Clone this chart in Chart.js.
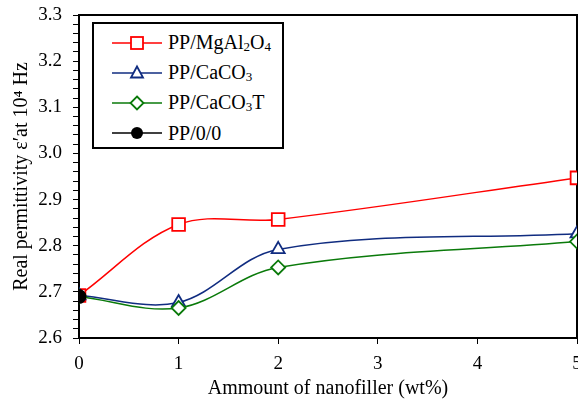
<!DOCTYPE html>
<html>
<head>
<meta charset="utf-8">
<script src="https://cdn.jsdelivr.net/npm/chart.js@4"></script>
<style>
  html, body { margin: 0; padding: 0; background: #fff; }
  #wrap { position: relative; width: 578px; height: 399px; }
  #legend {
    position: absolute; left: 92px; top: 22px; width: 188px; height: 123px;
    border: 2px solid #000; background: #fff;
    font-family: "Liberation Serif", "Times New Roman", serif; font-size: 20px;
  }
  #legend .row { position: absolute; left: 0; height: 30px; display: flex; align-items: center; }
  #legend svg { margin-left: 18px; margin-right: 6px; }
  #legend sub { font-size: 13px; vertical-align: -2px; }
</style>
</head>
<body>
<div id="wrap">
  <canvas id="chart" width="578" height="399"></canvas>
  <div id="legend"></div>
</div>
<script>
// values
const loading = [0, 1, 2, 5];               // wt%
const mgAl2O4 = [2.692, 2.846, 2.857, 2.947];
const caCO3   = [2.692, 2.677, 2.792, 2.826];
const caCO3T  = [2.690, 2.665, 2.753, 2.809];
const neatLoading = [0];
const neatPP = [2.690];

const seriesNames = ['PP/MgAl2O4', 'PP/CaCO3', 'PP/CaCO3T', 'PP/0/0'];
const seriesColors = ['#ff0000', '#102c80', '#0a7a0a', '#000000'];
const seriesShapes = ['rect', 'triangle', 'rectRot', 'circle'];

const xTicks = [0, 1, 2, 3, 4, 5];
const yMin = 2.6, yMax = 3.3;

const toPoints = (xs, ys) => xs.map((x, i) => ({ x: x, y: ys[i] }));

const serif = '"Liberation Serif", "Times New Roman", serif';

function makeSet(i, xs, ys, radius, fill, order) {
  return {
    label: seriesNames[i],
    data: toPoints(xs, ys),
    borderColor: seriesColors[i],
    backgroundColor: fill,
    borderWidth: 1.5,
    pointStyle: seriesShapes[i],
    pointRadius: radius,
    pointBorderWidth: 1.8,
    pointBackgroundColor: fill,
    pointBorderColor: seriesColors[i],
    tension: 0.35,
    order: order
  };
}

const datasets = [
  makeSet(0, loading, mgAl2O4, 9, '#fff', 3),
  makeSet(1, loading, caCO3, 7.5, '#fff', 2),
  makeSet(2, loading, caCO3T, 7, '#fff', 1),
  makeSet(3, neatLoading, neatPP, 6.5, '#000', 0)
];

// plot frame (box around the chart area)
const frame = {
  id: 'frame',
  beforeDatasetsDraw(chart) {
    const a = chart.chartArea, ctx = chart.ctx;
    ctx.save();
    ctx.strokeStyle = '#000';
    ctx.lineWidth = 2;
    ctx.strokeRect(a.left, a.top, a.right - a.left, a.bottom - a.top);
    ctx.restore();
  }
};

new Chart(document.getElementById('chart'), {
  type: 'line',
  data: { datasets: datasets },
  options: {
    responsive: false,
    animation: false,
    layout: { autoPadding: false, padding: { top: 15, right: 1, left: 0, bottom: 0 } },
    plugins: { legend: { display: false }, tooltip: { enabled: false } },
    scales: {
      x: {
        type: 'linear',
        min: 0, max: 5,
        afterBuildTicks: (s) => { s.ticks = xTicks.map(v => ({ value: v })); },
        afterFit: (s) => { s.height = 61; s.paddingLeft = 0; s.paddingRight = 0; },
        border: { display: false },
        grid: { drawOnChartArea: false, drawTicks: true, tickLength: 6, color: '#000', lineWidth: 1 },
        ticks: { color: '#000', padding: 9, font: { family: serif, size: 19 }, maxRotation: 0 },
        title: {
          display: true, text: 'Ammount of nanofiller (wt%)', color: '#000',
          font: { family: serif, size: 20, lineHeight: 1 }, padding: { top: 0, bottom: 0 }
        }
      },
      y: {
        type: 'linear',
        min: yMin, max: yMax,
        afterFit: (s) => { s.width = 79; s.paddingTop = 0; s.paddingBottom = 0; },
        border: { display: false },
        grid: { drawOnChartArea: false, drawTicks: true, tickLength: 6, color: '#000', lineWidth: 1 },
        ticks: {
          stepSize: 0.02, autoSkip: false, color: '#000', padding: 11,
          font: { family: serif, size: 19 },
          callback: (v) => {
            const t = Math.round(v * 100);
            return t % 10 === 0 ? (t / 100).toFixed(1) : '';
          }
        },
        title: {
          display: true, text: 'Real permittivity \u03b5\u2032at 10\u2074 Hz', color: '#000',
          font: { family: serif, size: 20, lineHeight: 1 }, padding: { top: 12, bottom: 0 }
        }
      }
    }
  },
  plugins: [frame]
});

// legend box with subscripts, built from the series arrays
function markerSvg(i) {
  const c = seriesColors[i];
  let shape = '';
  if (seriesShapes[i] === 'rect') shape = `<rect x="19" y="5" width="12" height="12" fill="#fff" stroke="${c}" stroke-width="1.8"/>`;
  if (seriesShapes[i] === 'triangle') shape = `<polygon points="25,4.5 31,15.5 19,15.5" fill="#fff" stroke="${c}" stroke-width="1.8"/>`;
  if (seriesShapes[i] === 'rectRot') shape = `<polygon points="25,4.5 31.5,11 25,17.5 18.5,11" fill="#fff" stroke="${c}" stroke-width="1.8"/>`;
  if (seriesShapes[i] === 'circle') shape = `<circle cx="25" cy="11" r="6" fill="#000"/>`;
  return `<svg width="50" height="22"><line x1="0" y1="11" x2="50" y2="11" stroke="${c}" stroke-width="1.5"/>${shape}</svg>`;
}
const legendEl = document.getElementById('legend');
seriesNames.forEach((name, i) => {
  const row = document.createElement('div');
  row.className = 'row';
  row.style.top = (4 + i * 30) + 'px';
  row.innerHTML = markerSvg(i) + '<span>' + name.replace(/([A-Za-z])(\d)/g, '$1<sub>$2</sub>') + '</span>';
  legendEl.appendChild(row);
});
</script>
</body>
</html>
